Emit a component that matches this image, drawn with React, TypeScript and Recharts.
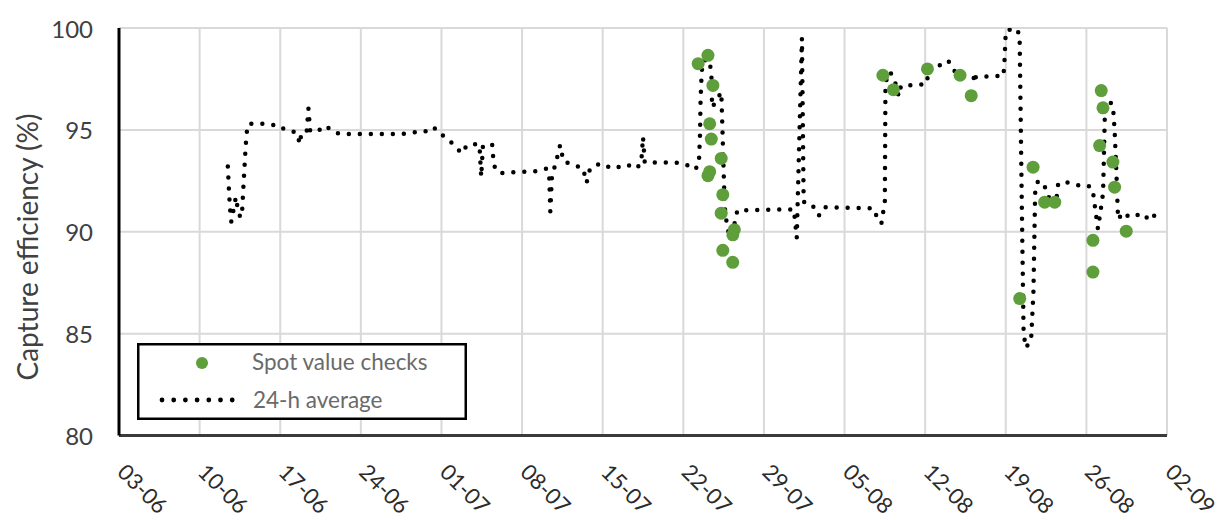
import React from 'react';
import { ComposedChart, Line, Scatter, XAxis, YAxis, CartesianGrid, Legend } from 'recharts';

// ---- axis ticks ----
const tickDays = [0, 7, 14, 21, 28, 35, 42, 49, 56, 63, 70, 77, 84, 91];
const tickLabels = ['03-06', '10-06', '17-06', '24-06', '01-07', '08-07', '15-07', '22-07', '29-07', '05-08', '12-08', '19-08', '26-08', '02-09'];
const yTicks = [80, 85, 90, 95, 100];

// ---- 24-h average (days since 03-06) ----
const avgDays = [
  9.45, 9.5, 9.55, 9.6, 9.65, 9.75, 9.95, 10.15, 10.35, 10.55, 10.7, 10.8, 10.9, 11.0, 11.1, 11.25,
  12.5, 14.0, 14.3, 14.9, 15.45, 15.7, 15.85, 16.3, 16.45, 16.6, 17.2, 17.6, 18.05, 18.6, 19.2,
  24.5, 25.6, 26.4, 26.9, 27.3, 27.7, 28.2, 28.75, 29.3, 29.8, 30.2, 31.0, 31.3, 31.45, 31.6, 32.4,
  32.5, 32.65, 33.1, 34.8, 36.0, 37.1, 37.35, 37.45, 37.6, 37.9, 38.3, 38.6, 39.45, 40.3, 40.6, 40.9,
  41.8, 42.9, 44.1, 44.95, 45.35, 45.5, 45.65, 47.0, 48.1, 49.0, 49.6, 50.0, 50.35, 50.45, 50.5, 50.6,
  50.75, 51.2, 51.43, 51.5, 52.3, 52.4, 52.5, 52.6, 52.75, 53.0, 53.3, 53.5, 53.7, 58.6, 58.85, 59.3,
  59.45, 59.7, 60.5, 60.8, 61.3, 65.5, 65.9, 66.2, 66.5, 66.55, 66.65, 66.95, 67.2, 67.5, 67.7, 67.9,
  70.1, 70.4, 71.0, 71.6, 72.0, 72.4, 72.8, 74.2, 74.3, 74.4, 76.8, 76.9, 77.0, 77.8, 78.2, 78.4,
  78.55, 78.75, 79.2, 79.4, 79.55, 79.8, 80.25, 80.4, 80.7, 81.4, 81.55, 82.1, 82.85, 83.4, 84.0, 84.3,
  84.6, 84.75, 85.0, 85.15, 85.45, 85.6, 85.9, 86.3, 86.45, 86.6, 86.75, 87.2, 87.75, 88.35, 88.9, 89.5, 89.9,
];
const avgValues = [
  93.2, 92.6, 92.0, 91.5, 91.1, 90.5, 91.1, 91.7, 91.0, 90.7, 91.1, 92.2, 93.2, 94.2, 94.9, 95.3,
  95.3, 95.2, 95.05, 94.95, 94.85, 94.3, 94.9, 94.95, 96.05, 94.95, 95.08, 94.95, 95.15, 94.9, 94.8,
  94.8, 94.87, 94.95, 94.9, 95.1, 95.0, 94.67, 94.45, 94.1, 93.85, 94.25, 94.3, 94.25, 92.7, 94.2, 94.3,
  93.6, 93.1, 92.87, 92.95, 92.95, 93.1, 92.8, 91.0, 92.8, 93.3, 94.25, 93.45, 93.3, 93.1, 92.4, 93.1,
  93.35, 93.1, 93.3, 93.1, 93.4, 94.65, 93.4, 93.4, 93.4, 93.35, 93.2, 93.05, 93.3, 94.8, 96.5, 97.9,
  98.4, 98.45, 97.9, 96.1, 96.85, 95.0, 93.0, 91.2, 90.5, 89.75, 89.8, 90.6, 91.05, 91.1, 89.7, 99.5,
  91.5, 91.3, 91.2, 90.8, 91.2, 91.15, 90.6, 90.4, 91.5, 97.0, 97.5, 97.85, 97.6, 97.15, 96.65, 97.15,
  97.25, 98.1, 98.1, 98.25, 98.4, 98.0, 97.7, 97.6, 97.3, 97.6, 97.65, 98.5, 99.85, 100.0, 99.7, 91.0,
  85.0, 84.3, 84.7, 87.0, 91.9, 92.5, 92.35, 92.2, 91.7, 91.6, 92.35, 92.45, 92.35, 92.27, 92.2, 92.25,
  91.85, 91.2, 90.15, 90.7, 91.9, 95.7, 96.4, 96.25, 95.0, 93.0, 90.6, 90.95, 90.7, 90.8, 90.9, 90.55, 90.8,
];

// ---- spot value checks ----
const spotDays = [
  50.29, 51.14, 51.57, 51.29, 51.43, 52.29, 51.29, 51.14, 52.43, 52.29, 53.43, 53.3, 52.43, 53.29,
  66.33, 67.24, 70.2, 73.03, 74.0, 78.21, 79.37, 80.38, 81.25, 84.57, 84.57, 85.15, 85.29, 85.44,
  86.3, 86.45, 87.46,
];
const spotValues = [
  98.25, 98.66, 97.18, 95.3, 94.55, 93.6, 92.95, 92.75, 91.82, 90.91, 90.1, 89.85, 89.09, 88.5,
  97.68, 96.97, 97.99, 97.68, 96.68, 86.72, 93.17, 91.45, 91.45, 89.58, 88.02, 94.23, 96.93, 96.08,
  93.42, 92.19, 90.03,
];

const avgData = avgDays.map((d, i) => ({ day: d, v: avgValues[i] }));
const spotData = spotDays.map((d, i) => ({ day: d, v: spotValues[i] }));

const GREEN = '#5e9e3b';
const FONT = 'Lato, "Open Sans", sans-serif';

const XTick = (props: any) => {
  const { x, y, payload } = props;
  const idx = tickDays.indexOf(payload.value);
  const bx = x - 3;
  const by = y + 38;
  return (
    <text x={bx} y={by} transform={`rotate(45 ${bx} ${by})`} textAnchor="start" fontSize={22} fill="#2b2b2b" fontFamily={FONT}>
      {idx >= 0 ? tickLabels[idx] : ''}
    </text>
  );
};

const YTick = (props: any) => {
  const { x, y, payload } = props;
  return (
    <text x={x - 26} y={y} textAnchor="end" dominantBaseline="central" fontSize={24} fill="#404040" fontFamily={FONT}>
      {payload.value}
    </text>
  );
};

const YTitle = () => (
  <text x={27} y={247} transform="rotate(-90 27 247)" textAnchor="middle" dominantBaseline="central" fontSize={28} fill="#404040" fontFamily={FONT}>
    Capture efficiency (%)
  </text>
);

const renderLegend = () => (
  <svg width={330} height={77} style={{ display: 'block' }}>
    <rect x={1.25} y={1.25} width={327.5} height={74.5} fill="#fff" stroke="#000" strokeWidth={2.5} />
    <circle cx={65} cy={20} r={6} fill={GREEN} />
    <text x={115} y={27} fontSize={22.5} fill="#6a6a6a" fontFamily={FONT}>Spot value checks</text>
    <line x1={25} x2={101} y1={57} y2={57} stroke="#000" strokeWidth={4.8} strokeDasharray="0 11.7" strokeLinecap="round" />
    <text x={116} y={65} fontSize={22.5} fill="#6a6a6a" fontFamily={FONT}>24-h average</text>
  </svg>
);

const SpotShape = (p: any) => <circle cx={p.cx} cy={p.cy} r={6.5} fill={GREEN} />;

export default function App() {
  return (
    <div style={{ position: 'absolute', left: 0, top: 0, width: 1227, height: 520, background: '#fff' }}>
      <ComposedChart width={1227} height={520} margin={{ top: 28, right: 60, bottom: 24.5, left: 59 }} style={{ overflow: 'visible' }}>
        <CartesianGrid stroke="#d9d9d9" strokeWidth={2} horizontal vertical />
        <XAxis
          type="number"
          dataKey="day"
          domain={[0, 91]}
          ticks={tickDays}
          interval={0}
          allowDataOverflow
          height={60}
          tick={<XTick />}
          tickLine={false}
          tickSize={0}
          tickMargin={0}
          axisLine={{ stroke: '#3a3a3a', strokeWidth: 3 }}
        />
        <YAxis
          type="number"
          domain={[80, 100]}
          ticks={yTicks}
          interval={0}
          allowDataOverflow
          width={60}
          tick={<YTick />}
          tickLine={false}
          tickSize={0}
          tickMargin={0}
          axisLine={{ stroke: '#000', strokeWidth: 3 }}
          label={{ content: YTitle }}
        />
        <Scatter data={spotData} dataKey="v" name="Spot value checks" shape={SpotShape} isAnimationActive={false} />
        <Line
          data={avgData}
          dataKey="v"
          name="24-h average"
          type="linear"
          stroke="#000"
          strokeWidth={4.5}
          strokeDasharray="0 11"
          strokeLinecap="round"
          dot={false}
          activeDot={false}
          isAnimationActive={false}
        />
        <Legend
          layout="vertical"
          align="center"
          verticalAlign="middle"
          content={renderLegend}
          wrapperStyle={{ left: 137, top: 343, width: 330, height: 77 }}
        />
      </ComposedChart>
    </div>
  );
}
